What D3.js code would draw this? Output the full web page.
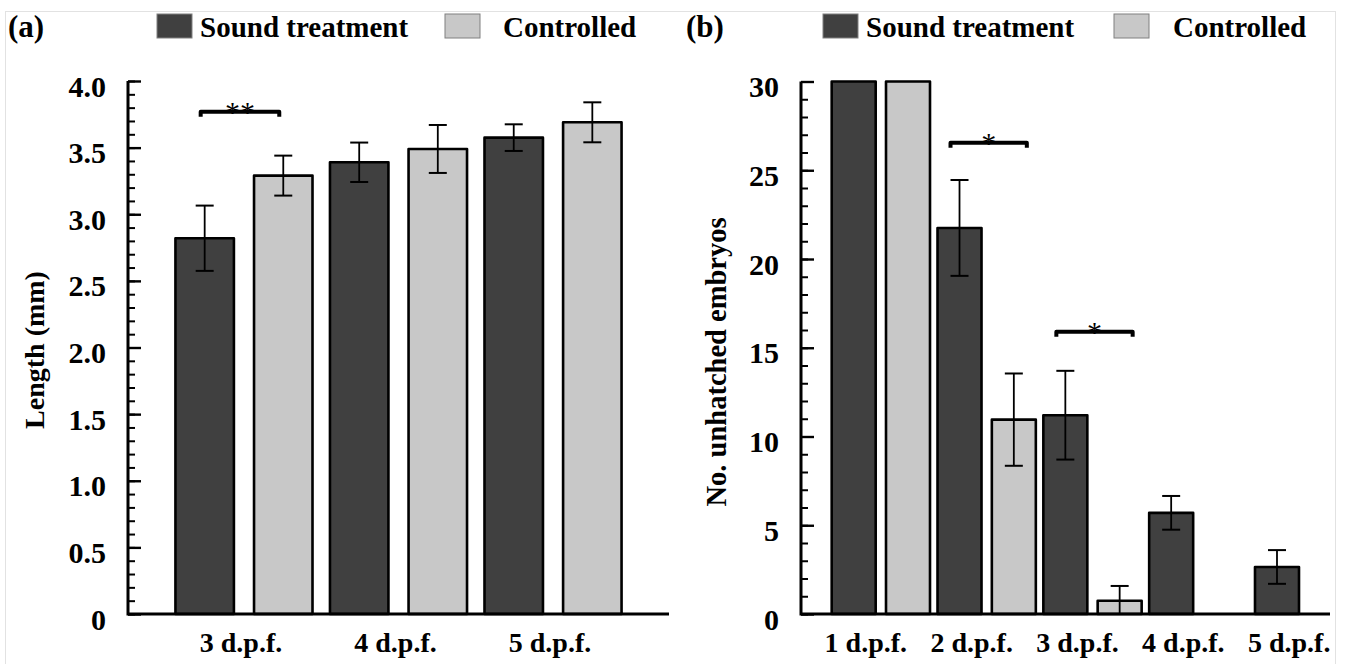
<!DOCTYPE html>
<html>
<head>
<meta charset="utf-8">
<script src="https://cdn.jsdelivr.net/npm/d3@7/dist/d3.min.js"></script>
<style>
  body { margin: 0; background: #fff; }
  text { font-family: "Liberation Serif", "Times New Roman", serif; font-weight: bold; fill: #000; }
</style>
</head>
<body>
<div id="chart"></div>
<script>
// ---- data ----
const seriesNames = ["Sound treatment", "Controlled"]
const seriesColors = ["#404040", "#c8c8c8"]

// (a) body length
const categoriesA = ["3 d.p.f.", "4 d.p.f.", "5 d.p.f."]
const lengthSound = [2.82, 3.39, 3.575]
const lengthSoundErr = [0.245, 0.148, 0.1]
const lengthControl = [3.29, 3.49, 3.69]
const lengthControlErr = [0.15, 0.18, 0.15]
const ticksA = [0, 0.5, 1.0, 1.5, 2.0, 2.5, 3.0, 3.5, 4.0]
const sigA = [{ cat: "3 d.p.f.", value: 3.77, label: "**" }]

// (b) unhatched embryos
const categoriesB = ["1 d.p.f.", "2 d.p.f.", "3 d.p.f.", "4 d.p.f.", "5 d.p.f."]
const unhatchedSound = [30, 21.75, 11.2, 5.7, 2.65]
const unhatchedSoundErr = [0, 2.7, 2.5, 0.95, 0.95]
const unhatchedControl = [30, 10.95, 0.75, 0, 0]
const unhatchedControlErr = [0, 2.6, 0.83, 0, 0]
const ticksB = [0, 5, 10, 15, 20, 25, 30]
const sigB = [
    { cat: "2 d.p.f.", value: 26.55, label: "*" },
    { cat: "3 d.p.f.", value: 15.9, label: "*" }
]

const W = 1345, H = 664

const svg = d3.select("#chart")
    .append("svg")
    .attr("width", W)
    .attr("height", H)

// faint frame around the figure
svg.append("rect")
    .attr("x", 5.5).attr("y", 11.5)
    .attr("width", 1330).attr("height", 660)
    .attr("fill", "none")
    .attr("stroke", "#e2e2e2")
    .attr("stroke-width", 1)

function drawPanel(opt) {
    const g = svg.append("g")

    let y = d3.scaleLinear()
        .domain([0, opt.max])
        .range([opt.bottom, opt.top])

    let x0 = d3.scaleBand()
        .domain(opt.categories)
        .range([opt.left, opt.bandEnd])
        .paddingInner(opt.padInner)
        .paddingOuter(opt.padOuter)

    let x1 = d3.scaleBand()
        .domain(seriesNames)
        .range([0, x0.bandwidth()])
        .paddingInner(opt.subPad)

    const data = []
    opt.categories.forEach((c, i) => {
        data.push({ cat: c, s: seriesNames[0], v: opt.sound[i], e: opt.soundErr[i] })
        data.push({ cat: c, s: seriesNames[1], v: opt.control[i], e: opt.controlErr[i] })
    })
    const shown = data.filter(d => d.v > 0)

    /* bars */
    g.selectAll("rect.bar")
        .data(shown)
        .enter()
        .append("rect")
        .attr("class", "bar")
        .attr("x", d => x0(d.cat) + x1(d.s))
        .attr("y", d => y(d.v))
        .attr("width", x1.bandwidth())
        .attr("height", d => y(0) - y(d.v))
        .attr("fill", d => seriesColors[seriesNames.indexOf(d.s)])
        .attr("stroke", "#000")
        .attr("stroke-width", 2.6)
        .attr("stroke-linejoin", "round")

    /* error bars */
    const errs = shown.filter(d => d.e > 0)
    const cx = d => x0(d.cat) + x1(d.s) + x1.bandwidth() / 2
    const cap = 9
    g.selectAll("line.err")
        .data(errs)
        .enter()
        .append("line")
        .attr("x1", cx).attr("x2", cx)
        .attr("y1", d => y(d.v + d.e))
        .attr("y2", d => y(Math.max(0, d.v - d.e)))
        .attr("stroke", "#000").attr("stroke-width", 1.8)
    g.selectAll("line.capTop")
        .data(errs)
        .enter()
        .append("line")
        .attr("x1", d => cx(d) - cap).attr("x2", d => cx(d) + cap)
        .attr("y1", d => y(d.v + d.e)).attr("y2", d => y(d.v + d.e))
        .attr("stroke", "#000").attr("stroke-width", 2)
    g.selectAll("line.capBot")
        .data(errs.filter(d => d.v - d.e > 0))
        .enter()
        .append("line")
        .attr("x1", d => cx(d) - cap).attr("x2", d => cx(d) + cap)
        .attr("y1", d => y(d.v - d.e)).attr("y2", d => y(d.v - d.e))
        .attr("stroke", "#000").attr("stroke-width", 2)

    /* significance brackets */
    opt.sig.forEach(s => {
        const xa = x0(s.cat) + x1(seriesNames[0]) + x1.bandwidth() / 2 + opt.sigPad[0]
        const xb = x0(s.cat) + x1(seriesNames[1]) + x1.bandwidth() / 2 + opt.sigPad[1]
        const yy = y(s.value)
        g.append("path")
            .attr("d", `M${xa},${yy + 5}V${yy}H${xb}V${yy + 5}`)
            .attr("fill", "none")
            .attr("stroke", "#000")
            .attr("stroke-width", 4)
            .attr("stroke-linejoin", "round")
        g.append("text")
            .attr("x", (xa + xb) / 2)
            .attr("y", yy + 10)
            .attr("text-anchor", "middle")
            .style("font-size", "30px")
            .style("font-weight", "normal")
            .text(s.label)
    })

    /* Y-axis: minor ticks, then major ticks with labels (ticks point inward) */
    g.append("g")
        .attr("transform", `translate(${opt.left}, 0)`)
        .call(d3.axisLeft(y).tickValues(d3.range(0, opt.max + 1e-9, opt.minor)).tickSize(-7).tickFormat(""))
        .call(a => a.select(".domain").remove())
        .call(a => a.selectAll("line").attr("stroke-width", 2))

    g.append("g")
        .attr("transform", `translate(${opt.left}, 0)`)
        .call(d3.axisLeft(y).tickValues(opt.ticks).tickSize(-13).tickPadding(22).tickFormat(opt.fmt))
        .call(a => a.select(".domain").remove())
        .call(a => a.selectAll("line").attr("stroke-width", 2.4))
        .call(a => a.selectAll("text")
            .attr("dy", "0.5em")
            .style("font-size", "30px")
            .style("font-family", "Liberation Serif, serif")
            .style("font-weight", "bold")
            .attr("fill", "#000"))

    // axis lines
    g.append("path")
        .attr("d", `M${opt.left},${y(opt.max)}V${y(0)}H${opt.axisEnd}`)
        .attr("fill", "none")
        .attr("stroke", "#000")
        .attr("stroke-width", 3)

    /* X labels */
    g.selectAll("text.cat")
        .data(opt.categories)
        .enter()
        .append("text")
        .attr("x", d => x0(d) + x0.bandwidth() / 2 + opt.labelShift)
        .attr("y", y(0) + 38)
        .attr("text-anchor", "middle")
        .style("font-size", "28px")
        .text(d => d)

    /* Y title */
    g.append("text")
        .attr("transform", `translate(${opt.titleX}, ${opt.titleY}) rotate(-90)`)
        .attr("text-anchor", "middle")
        .attr("dominant-baseline", "central")
        .style("font-size", opt.titleSize)
        .text(opt.title)

    /* panel tag + legend */
    g.append("text")
        .attr("x", opt.tagX).attr("y", 37)
        .style("font-size", "31px")
        .text(opt.tag)

    seriesNames.forEach((s, i) => {
        g.append("rect")
            .attr("x", opt.legendX[i]).attr("y", 14)
            .attr("width", 35).attr("height", 24)
            .attr("fill", seriesColors[i])
            .attr("stroke", "#808080")
            .attr("stroke-width", 1)
        g.append("text")
            .attr("x", opt.legendTextX[i]).attr("y", 37)
            .style("font-size", "29px")
            .text(s)
    })
}

drawPanel({
    categories: categoriesA,
    sound: lengthSound, soundErr: lengthSoundErr,
    control: lengthControl, controlErr: lengthControlErr,
    max: 4, ticks: ticksA, minor: 0.1,
    fmt: d => d === 0 ? "0" : d3.format(".1f")(d),
    top: 81, bottom: 614, left: 128, bandEnd: 669, axisEnd: 669,
    padInner: 0.113, padOuter: 0.307, subPad: 0.256,
    sig: sigA, sigPad: [-4, -4],
    labelShift: -3,
    title: "Length (mm)", titleX: 34, titleY: 350, titleSize: "28px",
    tag: "(a)", tagX: 8,
    legendX: [157, 445], legendTextX: [200, 503]
})

drawPanel({
    categories: categoriesB,
    sound: unhatchedSound, soundErr: unhatchedSoundErr,
    control: unhatchedControl, controlErr: unhatchedControlErr,
    max: 30, ticks: ticksB, minor: 1,
    fmt: d3.format("d"),
    top: 81.5, bottom: 614, left: 801, bandEnd: 1384, axisEnd: 1330,
    padInner: 0.071, padOuter: 0.29, subPad: 0.19,
    sig: sigB, sigPad: [-9, 13],
    labelShift: -15,
    title: "No. unhatched embryos", titleX: 716, titleY: 362, titleSize: "28.5px",
    tag: "(b)", tagX: 686,
    legendX: [823, 1114], legendTextX: [866, 1173]
})
</script>
</body>
</html>
